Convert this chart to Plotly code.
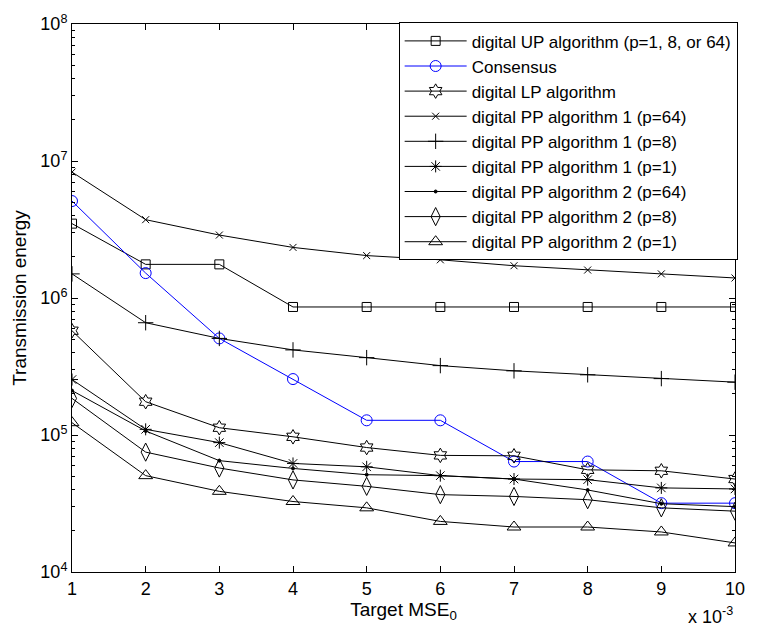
import plotly.graph_objects as go

x_vals = [1, 2, 3, 4, 5, 6, 7, 8, 9, 10]

up_alg = [3.49e6, 1.76e6, 1.76e6, 8.6e5, 8.6e5, 8.6e5, 8.6e5, 8.6e5, 8.6e5, 8.6e5]
consensus = [5.1e6, 1.52e6, 5.07e5, 2.56e5, 1.28e5, 1.28e5, 6.4e4, 6.4e4, 3.18e4, 3.18e4]
lp_alg = [5.77e5, 1.75e5, 1.13e5, 9.7e4, 8.1e4, 7.1e4, 7.05e4, 5.57e4, 5.48e4, 4.77e4]
pp1_64 = [8.3e6, 3.73e6, 2.88e6, 2.34e6, 2.04e6, 1.9e6, 1.72e6, 1.6e6, 1.5e6, 1.4e6]
pp1_8 = [1.50e6, 6.6e5, 5.07e5, 4.18e5, 3.67e5, 3.21e5, 2.94e5, 2.75e5, 2.58e5, 2.43e5]
pp1_1 = [2.54e5, 1.10e5, 8.8e4, 6.2e4, 5.86e4, 5.05e4, 4.77e4, 4.72e4, 4.11e4, 4.04e4]
pp2_64 = [2.11e5, 1.07e5, 6.5e4, 5.7e4, 5.13e4, 5.05e4, 4.77e4, 3.97e4, 3.15e4, 3.0e4]
pp2_8 = [1.85e5, 7.5e4, 5.74e4, 4.7e4, 4.22e4, 3.67e4, 3.56e4, 3.37e4, 2.94e4, 2.78e4]
pp2_1 = [1.23e5, 5.05e4, 3.88e4, 3.27e4, 2.94e4, 2.34e4, 2.13e4, 2.13e4, 1.96e4, 1.63e4]

names = [
    "digital UP algorithm (p=1, 8, or 64)",
    "Consensus",
    "digital LP algorithm",
    "digital PP algorithm 1 (p=64)",
    "digital PP algorithm 1 (p=8)",
    "digital PP algorithm 1 (p=1)",
    "digital PP algorithm 2 (p=64)",
    "digital PP algorithm 2 (p=8)",
    "digital PP algorithm 2 (p=1)",
]
series = [up_alg, consensus, lp_alg, pp1_64, pp1_8, pp1_1, pp2_64, pp2_8, pp2_1]
symbols = ["square-open", "circle-open", "hexagram-open", "x-thin-open",
           "cross-thin-open", "asterisk-open", "circle", "diamond-tall-open",
           "triangle-up-open"]
sizes = [9, 11, 11, 7, 11, 10, 3, 13, 12]
colors = ["black", "#0000FF", "black", "black", "black", "black", "black",
          "black", "black"]

y_tickvals = [1e4, 1e5, 1e6, 1e7, 1e8]
y_ticktext = ["10<sup>4</sup>", "10<sup>5</sup>", "10<sup>6</sup>",
              "10<sup>7</sup>", "10<sup>8</sup>"]
y_minor = [m * d for d in [1e4, 1e5, 1e6, 1e7] for m in range(2, 10)]

fig = go.Figure()
for i, (nm, ys, sym, sz, col) in enumerate(zip(names, series, symbols, sizes, colors)):
    fig.add_trace(go.Scatter(
        x=x_vals, y=ys, name=nm, mode="lines+markers",
        line=dict(color=col, width=1),
        marker=dict(symbol=sym, size=sz, color=col,
                    line=dict(color=col, width=1)),
    ))

font_family = "Arial, Liberation Sans, Helvetica, sans-serif"
fig.update_layout(
    width=757, height=636,
    margin=dict(l=72, r=15, t=20, b=64),
    paper_bgcolor="white", plot_bgcolor="white",
    font=dict(family=font_family, size=18, color="black"),
    showlegend=True,
    legend=dict(x=1.004, y=1.003, xanchor="right", yanchor="top",
                bgcolor="white", bordercolor="black", borderwidth=1,
                font=dict(size=17), itemwidth=62,
                traceorder="normal"),
    xaxis=dict(range=[1, 10], tickvals=x_vals, ticktext=[str(v) for v in x_vals],
               showline=True, linecolor="black", linewidth=1, mirror="allticks",
               ticks="inside", ticklen=6, tickcolor="black", showgrid=False,
               zeroline=False, tickfont=dict(size=18),
               title=dict(text="Target MSE<sub>0</sub>", standoff=2,
                          font=dict(size=19))),
    yaxis=dict(type="log", range=[4, 8], tickvals=y_tickvals, ticktext=y_ticktext,
               showline=True, linecolor="black", linewidth=1, mirror="allticks",
               ticks="inside", ticklen=6, tickcolor="black", showgrid=False,
               zeroline=False, tickfont=dict(size=18),
               minor=dict(tickvals=y_minor, ticks="inside", ticklen=3,
                          tickcolor="black", showgrid=False),
               title=dict(text="Transmission energy", standoff=8,
                          font=dict(size=19))),
)

fig.add_annotation(text="x 10<sup>-3</sup>", xref="paper", yref="paper",
                   x=1.0, y=-0.055, xanchor="right", yanchor="top",
                   showarrow=False, font=dict(size=18))

fig.write_html("out.html")
